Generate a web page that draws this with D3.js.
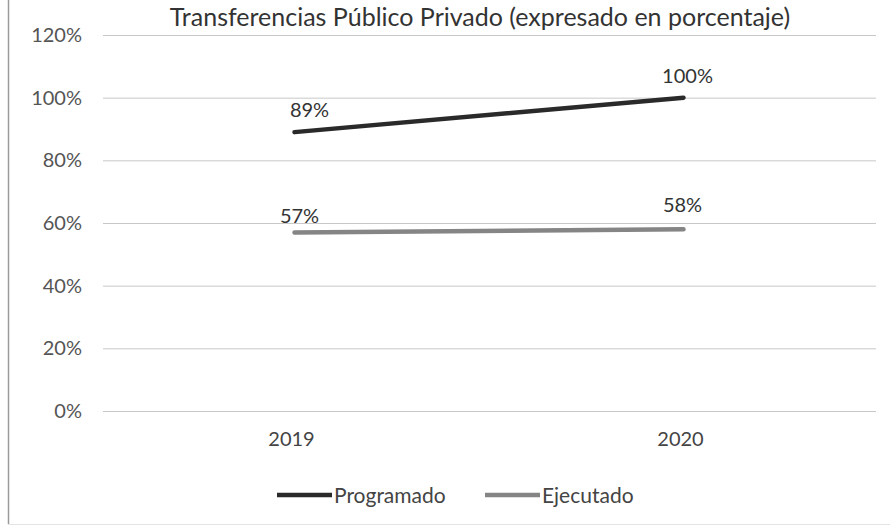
<!DOCTYPE html>
<html><head><meta charset="utf-8">
<script src="https://cdn.jsdelivr.net/npm/d3@7"></script>
<style>
html,body{margin:0;padding:0;background:#fff;}
svg{display:block;}
text{font-family:Lato,"Open Sans",sans-serif;}
</style></head>
<body>
<svg id="c" width="890" height="527"></svg>
<script>
const title = "Transferencias Público Privado (expresado en porcentaje)";
const categories = ["2019", "2020"];
const programado = [89, 100];
const ejecutado = [57, 58];
const seriesNames = ["Programado", "Ejecutado"];
const yTicks = [0, 20, 40, 60, 80, 100, 120];

const svg = d3.select("#c");
const W = 890, H = 527;
const m = {left: 100, right: 12};
const FONT = "Lato,'Open Sans',sans-serif";

// frame
svg.append("line").attr("x1", 8.5).attr("x2", 8.5).attr("y1", 0).attr("y2", 524)
  .attr("stroke", "#9a9a9a").attr("stroke-width", 1.5);
svg.append("line").attr("x1", 8).attr("x2", 890).attr("y1", 524.5).attr("y2", 524.5)
  .attr("stroke", "#e4e4e4").attr("stroke-width", 1);

const x = d3.scaleBand().domain(categories).range([m.left, W - m.right]);
const y = d3.scaleLinear().domain([0, 120]).range([411, 35]);

// gridlines
svg.append("g").selectAll("line").data(yTicks).join("line")
  .attr("x1", 103).attr("x2", 876)
  .attr("y1", d => y(d) + 0.5).attr("y2", d => y(d) + 0.5)
  .attr("stroke", "#c8c8c8").attr("stroke-width", 1);

// y axis labels
const yAxis = d3.axisLeft(y).tickValues(yTicks).tickFormat(d => d + "%").tickSize(0).tickPadding(0);
const gy = svg.append("g").attr("transform", "translate(82,0)").call(yAxis);
gy.select(".domain").remove();
gy.selectAll("text").attr("font-size", 20).attr("fill", "#555").attr("font-family", FONT);

// x axis labels
const xAxis = d3.axisBottom(x).tickSize(0).tickPadding(0);
const gx = svg.append("g").attr("transform", "translate(-3,432)").call(xAxis);
gx.select(".domain").remove();
gx.selectAll("text").attr("font-size", 20).attr("fill", "#444").attr("font-family", FONT);

// lines
const cx = c => x(c) + x.bandwidth() / 2;
const line = d3.line().x((d, i) => cx(categories[i])).y(d => y(d));
const series = [
  {name: seriesNames[0], values: programado, color: "#2a2a2a", dy: [-15, -15], dx: [15, 4]},
  {name: seriesNames[1], values: ejecutado, color: "#858585", dy: [-9, -17], dx: [5, -1]}
];
series.forEach(s => {
  svg.append("path").datum(s.values).attr("d", line)
    .attr("fill", "none").attr("stroke", s.color).attr("stroke-width", 4.5)
    .attr("stroke-linecap", "round");
  svg.append("g").selectAll("text").data(s.values).join("text")
    .attr("x", (d, i) => cx(categories[i]) + s.dx[i])
    .attr("y", (d, i) => y(d) + s.dy[i])
    .attr("text-anchor", "middle").attr("font-size", 20).attr("fill", "#333")
    .text(d => d + "%");
});

// title
svg.append("text").attr("x", 480).attr("y", 26).attr("text-anchor", "middle")
  .attr("font-size", 25).attr("fill", "#333").text(title);

// legend
const legX = [277, 485];
series.forEach((s, i) => {
  svg.append("line").attr("x1", legX[i]).attr("x2", legX[i] + 55)
    .attr("y1", 495).attr("y2", 495).attr("stroke", s.color).attr("stroke-width", 4.5);
  svg.append("text").attr("x", legX[i] + 57).attr("y", 502.5)
    .attr("font-size", 21).attr("fill", "#444").text(s.name);
});
</script>
</body></html>
